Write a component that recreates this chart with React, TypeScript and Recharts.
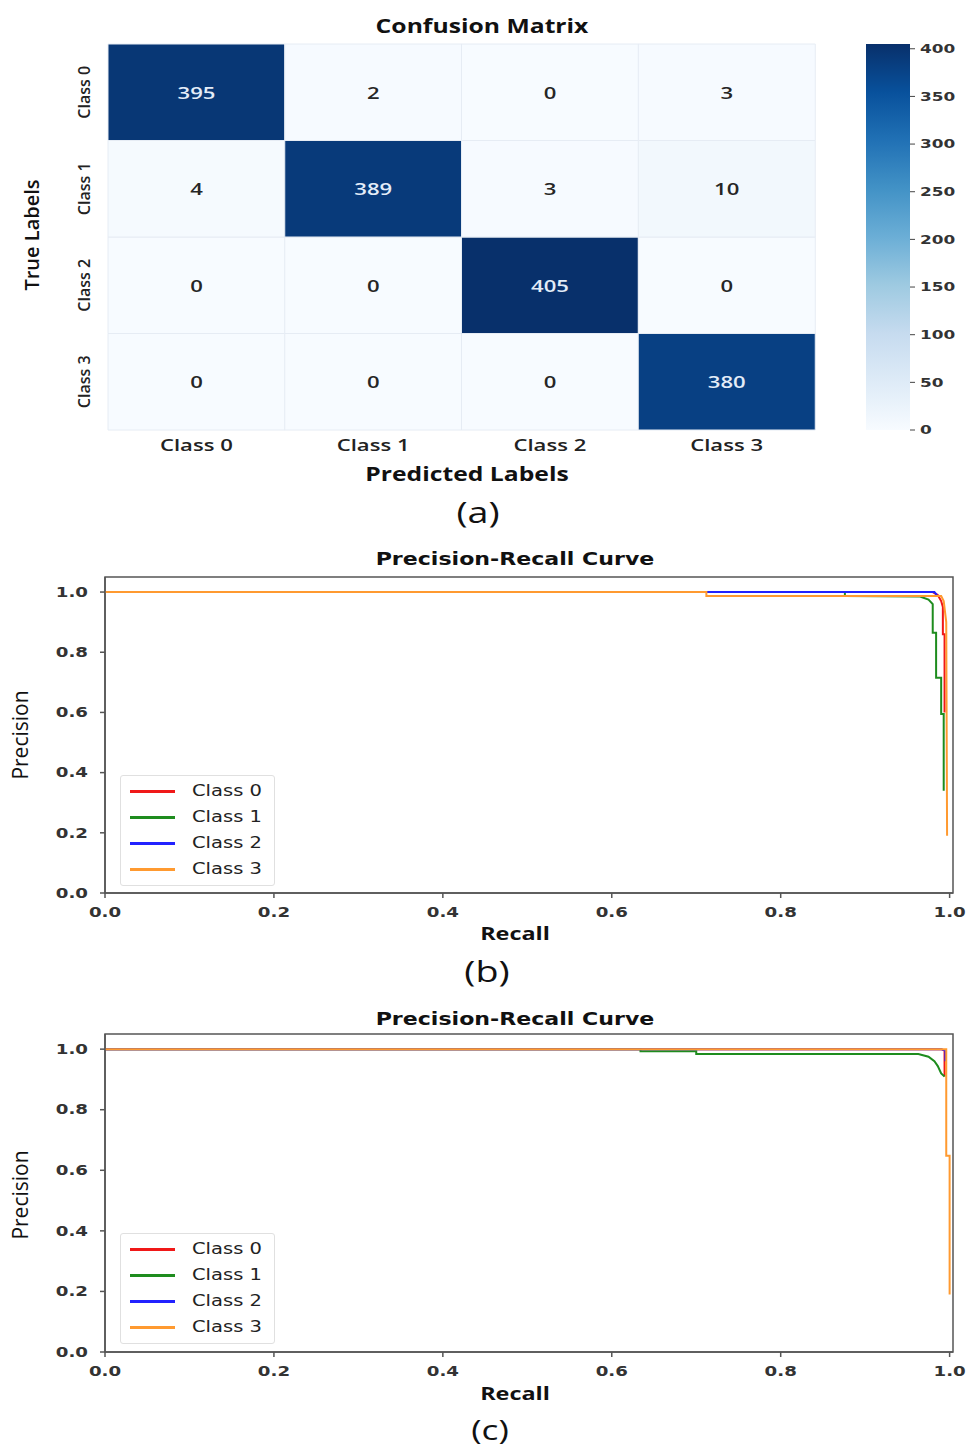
import React from "react";
import { BarChart, Bar, XAxis, YAxis, Cell, LabelList, LineChart, Line, Legend, ReferenceArea } from "recharts";

// horizontal stretch of the original figure's text
const SX = 1.3;

const classNames = ["Class 0", "Class 1", "Class 2", "Class 3"];
// rows = true class, columns = predicted class
const trueClass0 = [395, 2, 0, 3];
const trueClass1 = [4, 389, 3, 10];
const trueClass2 = [0, 0, 405, 0];
const trueClass3 = [0, 0, 0, 380];
const colorbarTicks = [0, 50, 100, 150, 200, 250, 300, 350, 400];
const unitTicks = [0, 0.2, 0.4, 0.6, 0.8, 1.0];

// (b) precision-recall points: [recall, precision]
const prB0 = [[0, 1], [0.98, 1], [0.986, 0.99], [0.99, 0.97], [0.992, 0.95], [0.992, 0.86], [0.994, 0.86], [0.994, 0.6]];
const prB1 = [[0, 1], [0.876, 1], [0.876, 0.987], [0.965, 0.985], [0.975, 0.975], [0.98, 0.96], [0.98, 0.865], [0.984, 0.865], [0.984, 0.715], [0.99, 0.715], [0.99, 0.595], [0.993, 0.595], [0.993, 0.34]];
const prB2 = [[0, 1], [0.982, 1], [0.985, 0.99]];
const prB3 = [[0, 1], [0.712, 1], [0.712, 0.987], [0.99, 0.987], [0.993, 0.97], [0.996, 0.9], [0.997, 0.19]];

// (c) precision-recall points
const prC0 = [[0, 1], [0.99, 1], [0.994, 0.995], [0.994, 0.91]];
const prC1 = [[0, 1], [0.634, 1], [0.634, 0.993], [0.7, 0.993], [0.7, 0.984], [0.963, 0.984], [0.975, 0.975], [0.982, 0.96], [0.986, 0.944], [0.99, 0.92], [0.994, 0.91]];
const prC2 = [[0, 1], [0.99, 1], [0.995, 0.995], [0.995, 0.96]];
const prC3 = [[0, 1], [0.996, 1], [0.996, 0.648], [1.0, 0.648], [1.0, 0.19]];

const lineColors = ["#f01818", "#1e8c1e", "#2222ff", "#ff9a30"];

const BLUES = ["#f7fbff", "#deebf7", "#c6dbef", "#9ecae1", "#6baed6", "#4292c6", "#2171b5", "#08519c", "#08306b"];

function hexToRgb(h: string) {
  return [1, 3, 5].map((i) => parseInt(h.slice(i, i + 2), 16));
}

function blues(t: number) {
  const c = Math.max(0, Math.min(1, t)) * (BLUES.length - 1);
  const i = Math.min(Math.floor(c), BLUES.length - 2);
  const f = c - i;
  const a = hexToRgb(BLUES[i]);
  const b = hexToRgb(BLUES[i + 1]);
  const m = a.map((v, k) => Math.round(v + (b[k] - v) * f));
  return `rgb(${m[0]},${m[1]},${m[2]})`;
}

const matrixRows = [trueClass0, trueClass1, trueClass2, trueClass3];
const vmax = Math.max(...matrixRows.flat());
const matrixData = classNames.map((name, j) => ({
  name,
  t0: trueClass0[j],
  t1: trueClass1[j],
  t2: trueClass2[j],
  t3: trueClass3[j],
}));
const stackOrder = ["t3", "t2", "t1", "t0"];
const colorbarData = [{ name: "cb", v: vmax }];

const toData = (pts: number[][]) => pts.map(([r, p]) => ({ r, p }));

const seriesB = [prB0, prB1, prB2, prB3].map((pts, i) => ({ name: classNames[i], color: lineColors[i], data: toData(pts) }));
const seriesC = [prC0, prC1, prC2, prC3].map((pts, i) => ({ name: classNames[i], color: lineColors[i], data: toData(pts) }));

const Caption = ({ x, y, size, weight = 400, family = "'Open Sans'", rotate = false, scale = SX, children }: any) => (
  <div
    style={{
      position: "absolute",
      left: x,
      top: y,
      transform: rotate ? "translate(-50%,-50%) rotate(-90deg)" : `translate(-50%,-50%) scaleX(${scale})`,
      fontSize: size,
      fontWeight: weight,
      fontFamily: family,
      whiteSpace: "nowrap",
      lineHeight: 1,
      color: "#111",
    }}
  >
    {children}
  </div>
);

const MatrixXTick = ({ x, y, payload }: any) => (
  <g transform={`translate(${x},${y + 8}) scale(${SX},1)`}>
    <text textAnchor="middle" dominantBaseline="middle" fontFamily="'Open Sans'" fontWeight={600} fontSize={17} fill="#222">
      {payload.value}
    </text>
  </g>
);

const MatrixYTick = ({ x, y, payload }: any) => (
  <g transform={`translate(${x - 14},${y}) rotate(-90)`}>
    <text textAnchor="middle" dominantBaseline="middle" fontFamily="'Open Sans'" fontWeight={600} fontSize={16} fill="#222">
      {classNames[3 - Math.floor(payload.value)]}
    </text>
  </g>
);

const CellLabel = (props: any) => {
  const vb = props.viewBox || props;
  const cx = vb.x + vb.width / 2;
  const cy = vb.y + vb.height / 2;
  const v = props.value;
  return (
    <g transform={`translate(${cx},${cy}) scale(${SX},1)`}>
      <text textAnchor="middle" dominantBaseline="central" fontFamily="'Open Sans'" fontWeight={600} fontSize={17} fill={v > vmax / 2 ? "#e3ecf8" : "#262626"}>
        {v}
      </text>
    </g>
  );
};

const ColorbarTick = ({ x, y, payload }: any) => (
  <g transform={`translate(${x + 3},${y}) scale(${SX},1)`}>
    <text textAnchor="start" dominantBaseline="central" fontFamily="'DejaVu Sans'" fontWeight={700} fontSize={13} fill="#333">
      {payload.value}
    </text>
  </g>
);

const PRXTick = ({ x, y, payload }: any) => (
  <g transform={`translate(${x},${y + 12}) scale(${SX},1)`}>
    <text textAnchor="middle" dominantBaseline="central" fontFamily="'DejaVu Sans'" fontWeight={700} fontSize={14} fill="#333">
      {payload.value.toFixed(1)}
    </text>
  </g>
);

const PRYTick = ({ x, y, payload }: any) => (
  <g transform={`translate(${x - 10},${y}) scale(${SX},1)`}>
    <text textAnchor="end" dominantBaseline="central" fontFamily="'DejaVu Sans'" fontWeight={700} fontSize={14} fill="#333">
      {payload.value.toFixed(1)}
    </text>
  </g>
);

const PRLegend = ({ payload }: any) => (
  <div
    style={{
      width: 153,
      height: 107,
      border: "1px solid #e0e0e0",
      borderRadius: 3,
      background: "#fff",
      boxSizing: "content-box",
      paddingTop: 2,
    }}
  >
    {(payload || []).map((e: any) => (
      <div key={e.value} style={{ display: "flex", alignItems: "center", height: 26 }}>
        <div style={{ width: 45, height: 3, background: e.color, marginLeft: 9 }} />
        <span
          style={{
            display: "inline-block",
            marginLeft: 17,
            fontFamily: "'DejaVu Sans'",
            fontSize: 15,
            color: "#222",
            transform: `scaleX(${SX})`,
            transformOrigin: "left center",
            whiteSpace: "nowrap",
          }}
        >
          {e.value}
        </span>
      </div>
    ))}
  </div>
);

const PRChart = ({ series, height }: any) => (
  <LineChart width={970} height={height} margin={{ top: 37, right: 17, bottom: 37, left: 45 }}>
    <XAxis
      dataKey="r"
      type="number"
      domain={[0, 1.004]}
      ticks={unitTicks}
      allowDataOverflow
      height={30}
      stroke="#555"
      strokeWidth={1.5}
      tickLine={{ stroke: "#555" }}
      tickSize={5}
      tick={<PRXTick />}
    />
    <YAxis
      type="number"
      domain={[0, 1.05]}
      ticks={unitTicks}
      allowDataOverflow
      width={60}
      stroke="#555"
      strokeWidth={1.5}
      tickLine={{ stroke: "#555" }}
      tickSize={5}
      tick={<PRYTick />}
    />
    <ReferenceArea x1={0} x2={1.004} y1={0} y2={1.05} fill="none" stroke="#555" strokeWidth={1.5} ifOverflow="visible" />
    {series.map((s: any) => (
      <Line
        key={s.name}
        data={s.data}
        dataKey="p"
        name={s.name}
        type="linear"
        stroke={s.color}
        strokeWidth={2}
        dot={false}
        activeDot={false}
        isAnimationActive={false}
      />
    ))}
    <Legend layout="vertical" align="center" verticalAlign="middle" wrapperStyle={{ left: 120, top: height === 420 ? 235 : 236, width: "auto" }} content={<PRLegend />} />
  </LineChart>
);

export default function App() {
  return (
    <div style={{ position: "absolute", left: 0, top: 0, width: 970, height: 1448, background: "#fff", overflow: "hidden" }}>
      {/* (a) confusion matrix */}
      <div style={{ position: "absolute", left: 0, top: 0 }}>
        <BarChart width={860} height={480} data={matrixData} barCategoryGap={0} margin={{ top: 44, right: 45, bottom: 20, left: 68 }}>
          <XAxis dataKey="name" height={30} axisLine={false} tickLine={false} tick={<MatrixXTick />} />
          <YAxis type="number" domain={[0, 4]} ticks={[0.5, 1.5, 2.5, 3.5]} width={40} axisLine={false} tickLine={false} tick={<MatrixYTick />} />
          {stackOrder.map((key) => (
            <Bar key={key} dataKey={() => 1} stackId="cm" isAnimationActive={false} stroke="#e6ecf4" strokeWidth={1}>
              {matrixData.map((d: any, i) => (
                <Cell key={i} fill={blues(d[key] / vmax)} />
              ))}
              <LabelList dataKey={key} content={CellLabel} />
            </Bar>
          ))}
        </BarChart>
      </div>
      <div style={{ position: "absolute", left: 850, top: 0 }}>
        <BarChart width={120} height={480} data={colorbarData} barCategoryGap={0} margin={{ top: 44, right: 10, bottom: 50, left: 16 }}>
          <defs>
            <linearGradient id="cbGrad" x1="0" y1="1" x2="0" y2="0">
              {BLUES.map((c, i) => (
                <stop key={i} offset={i / (BLUES.length - 1)} stopColor={c} />
              ))}
            </linearGradient>
          </defs>
          <XAxis dataKey="name" hide />
          <YAxis
            orientation="right"
            type="number"
            domain={[0, vmax]}
            ticks={colorbarTicks}
            width={50}
            axisLine={false}
            tickLine={{ stroke: "#444" }}
            tickSize={5}
            tick={<ColorbarTick />}
          />
          <Bar dataKey="v" fill="url(#cbGrad)" isAnimationActive={false} />
        </BarChart>
      </div>
      <Caption x={482} y={26} size={19} weight={700}>Confusion Matrix</Caption>
      <Caption x={32} y={235} size={20} weight={600} rotate>True Labels</Caption>
      <Caption x={467} y={474} size={19} weight={700}>Predicted Labels</Caption>
      <Caption x={478} y={511} size={29}>(a)</Caption>

      {/* (b) precision-recall */}
      <div style={{ position: "absolute", left: 0, top: 540 }}>
        <PRChart series={seriesB} height={420} />
      </div>
      <Caption x={515} y={559} size={17} weight={700} family="'DejaVu Sans'">Precision-Recall Curve</Caption>
      <Caption x={515} y={933} size={18} weight={700}>Recall</Caption>
      <Caption x={20} y={735} size={21} rotate>Precision</Caption>
      <Caption x={487} y={970} size={29}>(b)</Caption>

      {/* (c) precision-recall */}
      <div style={{ position: "absolute", left: 0, top: 997 }}>
        <PRChart series={seriesC} height={422} />
      </div>
      <Caption x={515} y={1019} size={17} weight={700} family="'DejaVu Sans'">Precision-Recall Curve</Caption>
      <Caption x={515} y={1393} size={18} weight={700}>Recall</Caption>
      <Caption x={20} y={1195} size={21} rotate>Precision</Caption>
      <Caption x={490} y={1429} size={27}>(c)</Caption>
    </div>
  );
}
